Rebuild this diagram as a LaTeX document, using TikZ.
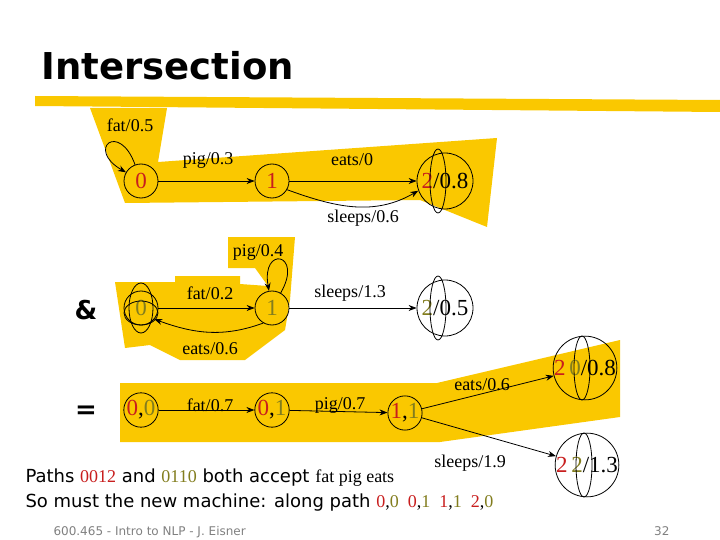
\documentclass[tikz,border=0pt]{standalone}
\usepackage{fontspec}
\setmainfont{Liberation Serif}
\setsansfont{DejaVu Sans}
\usetikzlibrary{arrows.meta}
\definecolor{hiyel}{RGB}{250,200,0}
\definecolor{ared}{RGB}{200,30,30}
\definecolor{bolive}{RGB}{130,125,30}
\tikzset{
  st/.style={circle,draw,thick,minimum size=34pt,inner sep=0pt,font=\fontsize{23}{23}\selectfont},
  fin/.style={circle,draw,thick,minimum size=56pt,inner sep=0pt,font=\fontsize{23}{23}\selectfont},
  lab/.style={font=\fontsize{18}{18}\selectfont},
  tr/.style={->,thick,>={Stealth[length=8pt]}}
}
\begin{document}
\begin{tikzpicture}[x=1pt,y=-1pt]
\useasboundingbox (0,0) rectangle (720,540);

% highlighted paths
\fill[hiyel] (90,108) -- (167,108) -- (158,162) -- (497,138) -- (487,227) -- (420,200) -- (125,203) -- cycle;
\fill[hiyel] (115,282) -- (175,282) -- (175,276) -- (240,276) -- (240,284) -- (268,286) -- (255,268) -- (228,268) -- (228,237) -- (295,237) -- (290,300) -- (285,330) -- (245,360) -- (180,360) -- (150,345) -- (125,348) -- cycle;
\fill[hiyel] (120,383) -- (437,383) -- (620,340) -- (620,417) -- (440,442) -- (120,442) -- cycle;
\fill[hiyel] (35,96) -- (720,100) -- (720,112) -- (35,106) -- cycle;

\node[font=\sffamily\bfseries\fontsize{37}{37}\selectfont,anchor=base west] (title) at (38,80) {Intersection};

% first machine
\node[st] (a0) at (141,181) {\textcolor{ared}{0}};
\node[st] (a1) at (272,181) {\textcolor{ared}{1}};
\node[fin] (a2) at (445,181) {\textcolor{ared}{2}/0.8};
\draw[thick] (a2.center) ++(-7,0) ellipse (8 and 32);
\path[tr] (a0) edge[out=110,in=150,looseness=10] (a0);
\path[tr] (a0) edge (a1);
\path[tr] (a1) edge (a2);
\path[tr] (a1.-30) edge[out=-20,in=-150] (a2.-160);
\node[lab] (fa) at (130,125) {fat/0.5};
\node[lab] (pa) at (208,160) {pig/0.3};
\node[lab] (ea) at (352,160) {eats/0};
\node[lab] (sa) at (363,218) {sleeps/0.6};

% second machine
\node[font=\sffamily\bfseries\fontsize{26}{26}\selectfont] (amp) at (86,310) {\&};
\node[st] (b0) at (141,308) {\textcolor{bolive}{0}};
\node[st] (b1) at (272,308) {\textcolor{bolive}{1}};
\node[fin] (b2) at (445,308) {\textcolor{bolive}{2}/0.5};
\draw[thick] (b2.center) ++(-7,0) ellipse (8 and 32);
\draw[thick] (b0.center) ellipse (12 and 25);
\draw[thick] (b0.center) ++(0,5) ellipse (17 and 12);
\path[tr] (b1) edge[out=60,in=100,looseness=10] (b1);
\path[tr] (b0) edge (b1);
\path[tr] (b1) edge (b2);
\path[tr] (b1.-120) edge[out=-160,in=-20] (b0.-40);
\node[lab] (pb) at (258,252) {pig/0.4};
\node[lab] (fb) at (210,293) {fat/0.2};
\node[lab] (sb) at (350,293) {sleeps/1.3};
\node[lab] (eb) at (210,349) {eats/0.6};

% intersection
\node[font=\sffamily\bfseries\fontsize{26}{26}\selectfont] (eq) at (86,412) {=};
\node[st] (c00) at (141,410) {\textcolor{ared}{0},\textcolor{bolive}{0}};
\node[st] (c01) at (272,410) {\textcolor{ared}{0},\textcolor{bolive}{1}};
\node[st] (c11) at (405,413) {\textcolor{ared}{1},\textcolor{bolive}{1}};
\node[fin] (c20) at (585,368) {\textcolor{ared}{2}\,\textcolor{bolive}{0}/0.8};
\draw[thick] (c20.center) ++(-3,0) ellipse (8 and 32);
\node[fin] (c22) at (587,465) {\textcolor{ared}{2}\,\textcolor{bolive}{2}/1.3};
\draw[thick] (c22.center) ++(-3,0) ellipse (8 and 32);
\path[tr] (c00) edge (c01);
\path[tr] (c01) edge (c11);
\path[tr] (c11) edge (c20);
\path[tr] (c11) edge (c22);
\node[lab] (fc) at (210,405) {fat/0.7};
\node[lab] (pc) at (340,405) {pig/0.7};
\node[lab] (ec) at (482,385) {eats/0.6};
\node[lab] (sc) at (470,463) {sleeps/1.9};

% explanation
\node[anchor=base west,font=\sffamily\fontsize{18}{18}\selectfont] (l1) at (22,482)
  {Paths \textcolor{ared}{\rmfamily 0012} and \textcolor{bolive}{\rmfamily 0110} both accept {\rmfamily fat pig eats}};
\node[anchor=base west,font=\sffamily\fontsize{18}{18}\selectfont] (l2) at (22,507)
  {So must the new machine: along path {\rmfamily\textcolor{ared}{0},\textcolor{bolive}{0}\ \ \textcolor{ared}{0},\textcolor{bolive}{1}\ \ \textcolor{ared}{1},\textcolor{bolive}{1}\ \ \textcolor{ared}{2},\textcolor{bolive}{0}}};
\node[anchor=base west,font=\sffamily\fontsize{12}{12}\selectfont,text=gray] (foot) at (50,535) {600.465 - Intro to NLP - J. Eisner};
\node[anchor=base east,font=\sffamily\fontsize{12}{12}\selectfont,text=gray] (pg) at (673,535) {32};
\end{tikzpicture}
\end{document}
